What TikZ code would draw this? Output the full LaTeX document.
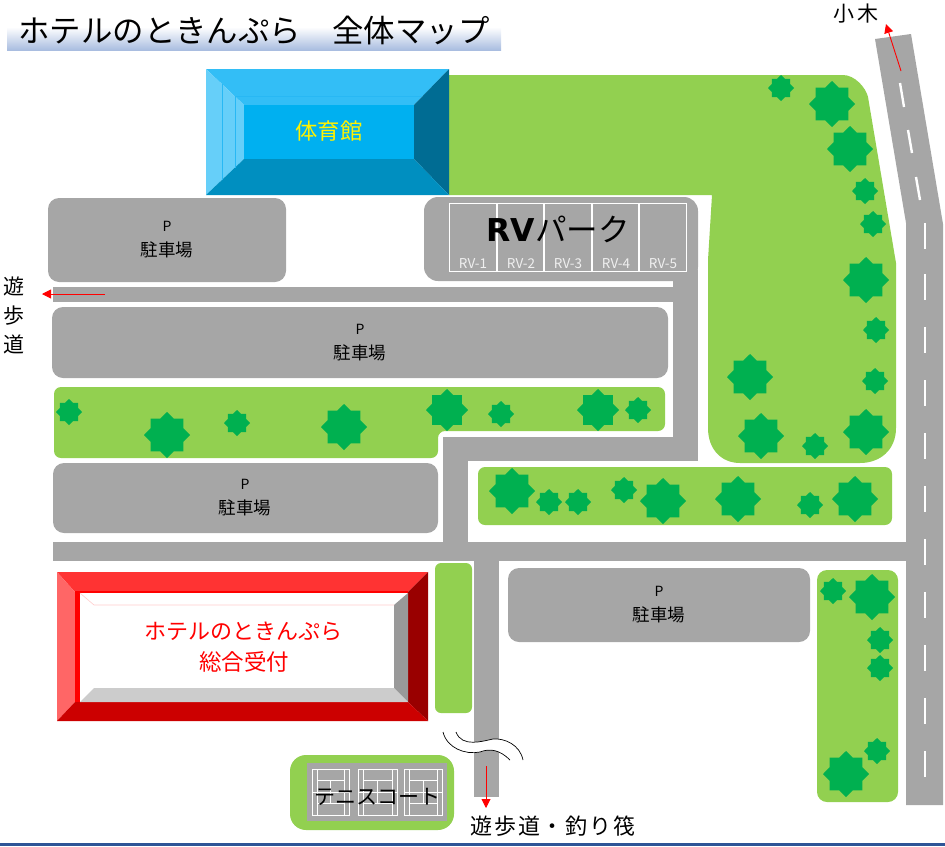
\documentclass[tikz,border=0pt]{standalone}
\usepackage{fontspec}
\setmainfont{Noto Sans CJK JP}
\newfontfamily\rvfont{DejaVu Sans}
\usetikzlibrary{shapes.geometric,arrows.meta}
\definecolor{roadgray}{HTML}{A6A6A6}
\definecolor{grass}{HTML}{92D050}
\definecolor{treegreen}{HTML}{00B050}
\definecolor{titleblue}{HTML}{A9BDE0}
\definecolor{barblue}{HTML}{2F5597}
\definecolor{gymtop}{HTML}{33BEF6}
\definecolor{gymleft}{HTML}{66CFF9}
\definecolor{gymright}{HTML}{006C93}
\definecolor{gymbottom}{HTML}{008FC0}
\definecolor{gymcenter}{HTML}{00B0F0}
\definecolor{gymline}{HTML}{28B8F4}
\definecolor{rectop}{HTML}{FF3333}
\definecolor{recleft}{HTML}{FF6666}
\definecolor{recright}{HTML}{990000}
\definecolor{recbottom}{HTML}{CC0000}
\definecolor{recgrayA}{HTML}{999999}
\definecolor{recgrayB}{HTML}{CCCCCC}
\tikzset{
 road/.style={fill=roadgray,draw=none},
 lawn/.style={fill=grass,draw=none},
 lot/.style={fill=roadgray,draw=none,rounded corners=11},
 tree/.style={star,star points=8,star point ratio=1.3,fill=treegreen,draw=none,inner sep=0pt},
 lbl/.style={inner sep=0pt,align=center},
 redarrow/.style={draw=red,line width=0.9pt,-{Triangle[length=9pt,width=9pt]}},
 dashline/.style={white,line width=2.4pt},
 courtline/.style={white,line width=0.8pt},
}
\begin{document}
\begin{tikzpicture}[x=1pt,y=-1pt]
\useasboundingbox (0,0) rectangle (945,846);
% title
\shade[top color=white,bottom color=titleblue] (7,27) rectangle (501,50);
\fill[barblue] (0,843) rectangle (945,846);
\node[lbl,font=\fontsize{31.4}{31.4}\selectfont] (title) at (254,31) {ホテルのときんぷら　全体マップ};
% green areas
\fill[lawn] (449,75) -- (843,75) .. controls (855,75) and (866,88) .. (868,97) -- (896,263) -- (896,428)
  .. controls (896,450) and (880,463) .. (860,463) -- (740,463) .. controls (722,463) and (708,450) .. (708,428)
  -- (708,260) -- (712,195) -- (449,195) -- cycle;
\fill[lawn,rounded corners=7] (54,387) -- (665,387) -- (665,431) -- (438,431) -- (438,458) -- (54,458) -- cycle;
\fill[lawn,rounded corners=7] (478,467) rectangle (892,525);
\fill[lawn,rounded corners=6] (435,563) rectangle (472,713);
\fill[lawn,rounded corners=10] (817,570) rectangle (898,802);
\fill[lawn,rounded corners=16] (290,755) rectangle (454,830);
% roads
\fill[road] (53,287) rectangle (698,302);
\fill[road] (673,270) rectangle (698,461);
\fill[road] (443,437) rectangle (698,461);
\fill[road] (443,437) rectangle (468,560);
\fill[road] (53,542) rectangle (906,561);
\fill[road] (474,561) rectangle (499,797);
\fill[road] (875,39) -- (911,34) -- (943,224) -- (943,805) -- (906,805) -- (906,223) -- cycle;
\foreach \a/\b/\c/\d in {900/83/904/107,908/130/912/153,916/177/920/200}
  \draw[dashline] (\a,\b) -- (\c,\d);
\foreach \y in {223,274,327,380,433,486,539,592,645,698,751}
  \draw[dashline] (925,\y) -- (925,\y+26);
% lots
\fill[lot] (48,198) rectangle (286,282);
\fill[lot] (52,307) rectangle (668,378);
\fill[lot] (53,463) rectangle (438,533);
\fill[lot] (508,568) rectangle (810,642);
\fill[road,rounded corners=14] (424,281) -- (424,197) -- (698,197) -- (698,281) -- cycle;
% trees
\foreach \x/\y/\r [count=\i] in {781/88/13,832/104/23,850/149/23,865/191/13,873/224/13,866/280/23,876/330/13,875/381/13,866/432/23,750/377/23,761/436/23,815/446/13,69/412/13,167/435/23,237/423/13,344/427/23,447/410/21,501/414/13,598/410/21,638/410/13,512/491/23,549/502/13,578/502/13,624/490/13,663/501/23,738/499/23,810/505/13,855/499/23,833/591/13,872/597/23,880/640/13,880/668/13,877/751/13,846/774/23}
  \node[tree,minimum size=2*\r pt] (tree\i) at (\x,\y) {};
% gym
\fill[gymtop] (206,69) -- (449,69) -- (414,105) -- (244,105) -- cycle;
\fill[gymleft] (206,69) -- (244,105) -- (244,159) -- (206,195) -- cycle;
\fill[gymright] (449,69) -- (414,105) -- (414,159) -- (449,195) -- cycle;
\fill[gymbottom] (206,195) -- (244,159) -- (414,159) -- (449,195) -- cycle;
\fill[gymcenter] (244,105) rectangle (414,159);
\draw[gymline,line width=0.8pt] (222,84) -- (222,180) (235,96) -- (422,96) (235,96) -- (235,168);
\node[lbl,text=yellow,font=\fontsize{22.3}{22.3}\selectfont] (gym) at (329,131) {体育館};
% RV
\draw[white,line width=0.8pt] (449,203) rectangle (686,271);
\foreach \x in {497,544,592,639} \draw[white,line width=1.1pt] (\x,203) -- (\x,271);
\foreach \x/\t [count=\i] in {473/RV-1,521/RV-2,568/RV-3,616/RV-4,663/RV-5}
  \node[lbl,text=white!88!gray,font=\fontsize{13.5}{13.5}\selectfont] (rv\i) at (\x,264) {\t};
\node[lbl,font=\fontsize{31.5}{31.5}\selectfont] (rvpark) at (558,229) {{\rvfont\bfseries RV}パーク};
% parking labels
\foreach \x/\y [count=\i] in {167/226,360/329,245/484,659/591}{
  \node[lbl,font=\fontsize{14}{14}\selectfont] (pa\i) at (\x,\y) {P};
  \node[lbl,font=\fontsize{17.5}{17.5}\selectfont] (pb\i) at (\x,\y+24) {駐車場};
}
% reception
\fill[rectop] (57,572) -- (428,572) -- (408,592) -- (75,592) -- cycle;
\fill[recleft] (57,572) -- (75,592) -- (75,702) -- (57,721) -- cycle;
\fill[recright] (428,572) -- (408,592) -- (408,702) -- (428,721) -- cycle;
\fill[recbottom] (57,721) -- (75,702) -- (408,702) -- (428,721) -- cycle;
\fill[red] (75,591) rectangle (408,702);
\fill[white] (80,593) rectangle (408,702);
\fill[recgrayA] (408,593) -- (394,605) -- (394,688) -- (408,702) -- cycle;
\fill[recgrayB] (80,702) -- (94,688) -- (394,688) -- (408,702) -- cycle;
\draw[red!20,line width=0.6pt] (80,593) -- (94,605) -- (394,605);
\node[lbl,text=red,font=\fontsize{22}{22}\selectfont] (recep) at (243.5,631) {ホテルのときんぷら};
\node[lbl,text=red,font=\fontsize{22.5}{22.5}\selectfont] (recep2) at (244,662) {総合受付};
% tennis
\fill[road] (307,763) rectangle (447,821);
\foreach \x/\w in {312/37,358/39,404/38}{
  \draw[courtline] (\x,769) rectangle (\x+\w,815);
  \draw[courtline] (\x+5,769) -- (\x+5,815) (\x+\w-5,769) -- (\x+\w-5,815);
  \draw[courtline] (\x+5,780) -- (\x+\w-5,780) (\x+5,803) -- (\x+\w-5,803) (\x+\w/2,780) -- (\x+\w/2,803);
  \draw[courtline] (\x,792) -- (\x+\w,792);
}
\node[lbl,font=\fontsize{21}{21}\selectfont] (tennis) at (377,797) {テニスコート};
% break in road
\fill[white] (443,732) .. controls (447,748) and (465,755) .. (480,752) .. controls (490,748) and (500,750) .. (510,760)
  -- (523,760) .. controls (520,745) and (505,738) .. (493,739) .. controls (483,741) and (462,748) .. (456,732) -- cycle;
\draw[black,line width=0.7pt] (443,732) .. controls (447,748) and (465,755) .. (480,752) .. controls (490,748) and (500,750) .. (510,760);
\draw[black,line width=0.7pt] (456,732) .. controls (462,748) and (483,741) .. (493,739) .. controls (505,738) and (520,745) .. (523,760);
% arrows
\coordinate (westA) at (105,294); \coordinate (westB) at (42,294);
\coordinate (southA) at (486,766); \coordinate (southB) at (486,808);
\coordinate (northA) at (901,71); \coordinate (northB) at (886,24);
\draw[redarrow] (westA) -- (westB);
\draw[redarrow] (southA) -- (southB);
\draw[redarrow] (northA) -- (northB);
% place labels
\node[lbl,font=\fontsize{21}{29}\selectfont] (west) at (14,315) {遊\\歩\\道};
\node[lbl,font=\fontsize{21}{21}\selectfont\addfontfeature{LetterSpace=10}] (north) at (856,14) {小木};
\node[lbl,font=\fontsize{22}{22}\selectfont\addfontfeature{LetterSpace=8}] (south) at (553,826) {遊歩道・釣り筏};
\end{tikzpicture}
\end{document}
